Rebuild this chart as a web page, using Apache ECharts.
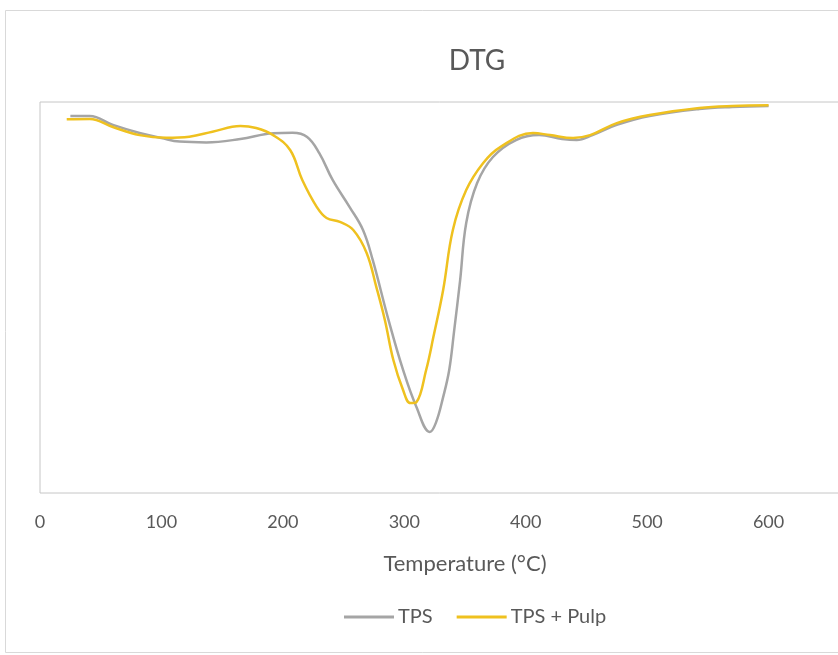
<!DOCTYPE html>
<html>
<head>
<meta charset="utf-8">
<script src="https://cdn.jsdelivr.net/npm/echarts@6/dist/echarts.min.js"></script>
<style>
html,body{margin:0;padding:0;background:#fff;overflow:hidden;}
#chart{width:838px;height:655px;}
</style>
</head>
<body>
<div id="chart"></div>
<script>
// Temperature (°C) and DTG values (arbitrary units, y axis hidden)
var tpsT = [25,41,60,82,100,115,137,165,192,208,220,230,241,255,266,274,287,299,310,321,326,332,337,341,346,351,360,373,392,411,430,442,455,475,502,543,570,600];
var tpsV = [-0.054,-0.054,-0.088,-0.119,-0.138,-0.152,-0.155,-0.142,-0.120,-0.118,-0.134,-0.196,-0.299,-0.403,-0.491,-0.606,-0.836,-1.028,-1.170,-1.266,-1.231,-1.132,-1.028,-0.880,-0.683,-0.464,-0.311,-0.211,-0.146,-0.127,-0.142,-0.146,-0.127,-0.088,-0.054,-0.027,-0.019,-0.015];
var pulpT = [22,41,60,82,104,123,142,165,178,192,206,216,228,236,247,258,269,277,284,291,299,305,310,318,324,332,340,351,365,379,406,420,439,453,475,502,543,570,600];
var pulpV = [-0.066,-0.065,-0.096,-0.127,-0.137,-0.133,-0.114,-0.092,-0.100,-0.127,-0.184,-0.299,-0.403,-0.445,-0.460,-0.491,-0.579,-0.710,-0.836,-0.990,-1.105,-1.155,-1.151,-1.028,-0.901,-0.721,-0.491,-0.338,-0.234,-0.173,-0.119,-0.127,-0.138,-0.127,-0.081,-0.050,-0.023,-0.015,-0.012];
var seriesNames = ['TPS', 'TPS + Pulp'];
var xTicks = [0,100,200,300,400,500,600];

function pairs(xs, ys){ return xs.map(function(x,i){ return [x, ys[i]]; }); }

var chart = echarts.init(document.getElementById('chart'), null, {renderer:'canvas'});
var font = 'Lato, "Open Sans", sans-serif';
chart.setOption({
  animation:false,
  backgroundColor:'#ffffff',
  graphic:[{type:'rect', shape:{x:5.5,y:10.5,width:900,height:642}, style:{fill:'none', stroke:'#d9d9d9', lineWidth:1}, silent:true, z:-10}],
  title:{text:'DTG', left:472, top:42, textAlign:'center',
    textStyle:{fontFamily:font, fontSize:28, fontWeight:'normal', color:'#595959'}},
  legend:{left:339, top:602, itemWidth:50, itemHeight:3, itemGap:24, icon:'rect',
    textStyle:{fontFamily:font, fontSize:20, color:'#595959', padding:[0,0,0,-1]},
    data:seriesNames},
  grid:{left:40, top:102, height:391, width:850, show:true, borderColor:'#c6c6c6', borderWidth:1,
    containLabel:false, outerBoundsMode:'none'},
  xAxis:{type:'value', min:0, max:700, interval:100,
    name:'Temperature (°C)', nameLocation:'middle', nameGap:60,
    nameTextStyle:{fontFamily:font, fontSize:22, color:'#595959'},
    axisLine:{show:false}, axisTick:{show:false}, splitLine:{show:false},
    axisLabel:{fontFamily:font, fontSize:18, color:'#595959', margin:20,
      formatter:function(v){ return xTicks.indexOf(v) >= 0 ? String(v) : ''; }}},
  yAxis:{type:'value', min:-1.5, max:0, show:true,
    axisLine:{show:false}, axisTick:{show:false}, axisLabel:{show:false}, splitLine:{show:false}},
  series:[
    {name:seriesNames[0], type:'line', data:pairs(tpsT,tpsV), smooth:0.4, symbol:'none',
      lineStyle:{color:'#a5a5a5', width:2.5}, itemStyle:{color:'#a5a5a5'}},
    {name:seriesNames[1], type:'line', data:pairs(pulpT,pulpV), smooth:0.4, symbol:'none',
      lineStyle:{color:'#efc11f', width:2.5}, itemStyle:{color:'#efc11f'}}
  ]
});
</script>
</body>
</html>
